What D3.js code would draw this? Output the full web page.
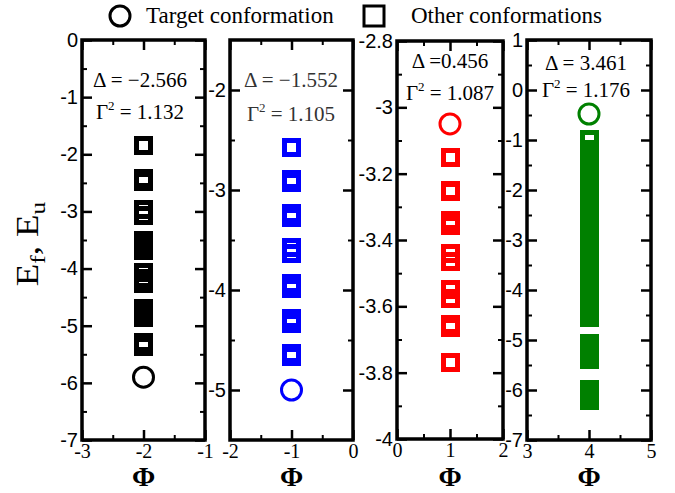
<!DOCTYPE html>
<html lang="en">
<head>
  <meta charset="UTF-8">
  <title>Energy spectra</title>
  <style>
    body { margin: 0; background: #fff; }
    svg { display: block; }
  </style>
</head>
<body>
  <script src="https://d3js.org/d3.v7.min.js"></script>
  <script>
    const width = 675;
    const height = 493;

    // ---- data ----
    const phi = [-2, -1, 1, 4];
    const xDomains = [[-3, -1], [-2, 0], [0, 2], [3, 5]];
    const yDomains = [[-7, 0], [-5.5, -1.5], [-4, -2.8], [-7, 1]];
    const xTicks = [[-3, -2, -1], [-2, -1, 0], [0, 1, 2], [3, 4, 5]];
    const xMinor = [[-2.5, -1.5], [-1.5, -0.5], [0.5, 1.5], [3.5, 4.5]];
    const yTicks = [
      [0, -1, -2, -3, -4, -5, -6, -7],
      [-2, -3, -4, -5],
      [-2.8, -3, -3.2, -3.4, -3.6, -3.8, -4],
      [1, 0, -1, -2, -3, -4, -5, -6, -7]
    ];
    const yMinor = [
      [-0.5, -1.5, -2.5, -3.5, -4.5, -5.5, -6.5],
      [-2.5, -3.5, -4.5],
      [-2.9, -3.1, -3.3, -3.5, -3.7, -3.9],
      [0.5, -0.5, -1.5, -2.5, -3.5, -4.5, -5.5, -6.5]
    ];
    const deltaText = ['\u0394 = \u22122.566', '\u0394 = \u22121.552', '\u0394 =0.456', '\u0394 = 3.461'];
    const gammaText = [' = 1.132', ' = 1.105', ' = 1.087', ' = 1.176'];

    // energy of the target conformation (circle)
    const targetE = [-5.9, -5.0, -3.05, -0.48];
    // energies of the other conformations (squares)
    const otherE1 = [-1.85, -2.42, -2.47, -2.97, -3.07, -3.5, -3.6, -3.69,
                     -4.07, -4.17, -4.26, -4.69, -4.77, -4.86, -5.3, -5.37];
    const otherE2 = [-2.57, -2.89, -2.92, -3.23, -3.27, -3.57, -3.63,
                     -3.93, -3.98, -4.28, -4.33, -4.63, -4.66];
    const otherE3 = [-3.15, -3.25, -3.253, -3.34, -3.355, -3.44, -3.465,
                     -3.55, -3.575, -3.655, -3.665, -3.77];
    const otherE4 = [-0.99, -1.18, -1.3, -1.38, -1.5, -1.58, -1.7, -1.8,
                     -1.88, -1.97, -2.05, -2.14, -2.22, -2.31, -2.4, -2.48,
                     -2.57, -2.66, -2.74, -2.83, -2.91, -3.0, -3.09, -3.17,
                     -3.26, -3.34, -3.43, -3.52, -3.6, -3.69, -3.77, -3.86,
                     -3.95, -4.03, -4.12, -4.2, -4.29, -4.38, -4.46, -4.55,
                     -5.07, -5.15, -5.23, -5.31, -5.39,
                     -5.99, -6.05, -6.14, -6.21];
    const otherE = [otherE1, otherE2, otherE3, otherE4];

    // ---- layout / style ----
    const colors = ['#000000', '#0000ff', '#ff0000', '#008000'];
    const textColors = ['#000', '#333', '#000', '#000'];
    const frames = [
      { x0: 82, x1: 205, y0: 40, y1: 440 },
      { x0: 230, x1: 353, y0: 40, y1: 440 },
      { x0: 397, x1: 503, y0: 41, y1: 439 },
      { x0: 527, x1: 651, y0: 40, y1: 440 }
    ];
    const notePos = [
      { x: 140, d: 87, g: 119 },
      { x: 291, d: 87, g: 121 },
      { x: 450, d: 68, g: 100 },
      { x: 586, d: 70, g: 97 }
    ];
    const serif = '"Liberation Serif", serif';
    const sans = '"Liberation Sans", sans-serif';
    const sq = 14;   // square side
    const sqStroke = 5;

    const svg = d3.select('body')
                  .append('svg')
                  .attr('width', width)
                  .attr('height', height);

    const styleAxis = (g, stroke) => {
      g.select('.domain').remove();
      g.selectAll('.tick line').attr('stroke', '#000').attr('stroke-width', stroke);
    };

    const drawPanel = (i) => {
      const f = frames[i];
      const x = d3.scaleLinear().domain(xDomains[i]).range([f.x0, f.x1]);
      const y = d3.scaleLinear().domain(yDomains[i]).range([f.y1, f.y0]);
      const g = svg.append('g');

      // major + minor ticks on all four sides, pointing inward
      g.append('g').attr('transform', `translate(${f.x0},0)`)
        .call(d3.axisLeft(y).tickValues(yTicks[i]).tickSize(-10).tickPadding(4).tickFormat(d => String(d)))
        .call(a => styleAxis(a, 2.5))
        .selectAll('text')
        .attr('font-family', sans).attr('font-size', 20).attr('fill', '#000');
      g.append('g').attr('transform', `translate(${f.x0},0)`)
        .call(d3.axisLeft(y).tickValues(yMinor[i]).tickSize(-5).tickFormat(''))
        .call(a => styleAxis(a, 2));
      g.append('g').attr('transform', `translate(${f.x1},0)`)
        .call(d3.axisRight(y).tickValues(yTicks[i]).tickSize(-10).tickFormat(''))
        .call(a => styleAxis(a, 2.5));
      g.append('g').attr('transform', `translate(${f.x1},0)`)
        .call(d3.axisRight(y).tickValues(yMinor[i]).tickSize(-5).tickFormat(''))
        .call(a => styleAxis(a, 2));

      g.append('g').attr('transform', `translate(0,${f.y1})`)
        .call(d3.axisBottom(x).tickValues(xTicks[i]).tickSize(-10).tickPadding(4).tickFormat(d => String(d)))
        .call(a => styleAxis(a, 2.5))
        .selectAll('text')
        .attr('font-family', serif).attr('font-size', 20).attr('fill', '#000');
      g.append('g').attr('transform', `translate(0,${f.y1})`)
        .call(d3.axisBottom(x).tickValues(xMinor[i]).tickSize(-5).tickFormat(''))
        .call(a => styleAxis(a, 2));
      g.append('g').attr('transform', `translate(0,${f.y0})`)
        .call(d3.axisTop(x).tickValues(xTicks[i]).tickSize(-10).tickFormat(''))
        .call(a => styleAxis(a, 2.5));
      g.append('g').attr('transform', `translate(0,${f.y0})`)
        .call(d3.axisTop(x).tickValues(xMinor[i]).tickSize(-5).tickFormat(''))
        .call(a => styleAxis(a, 2));

      // frame
      g.append('rect')
        .attr('x', f.x0).attr('y', f.y0)
        .attr('width', f.x1 - f.x0).attr('height', f.y1 - f.y0)
        .attr('fill', 'none').attr('stroke', '#000').attr('stroke-width', 3.5);

      // squares: other conformations
      g.append('g').selectAll('rect')
        .data(otherE[i])
        .enter()
        .append('rect')
        .attr('x', x(phi[i]) - sq / 2)
        .attr('y', d => y(d) - sq / 2)
        .attr('width', sq)
        .attr('height', sq)
        .attr('fill', 'none')
        .attr('stroke', colors[i])
        .attr('stroke-width', sqStroke)
        .attr('shape-rendering', 'crispEdges');

      // circle: target conformation
      g.append('circle')
        .attr('cx', x(phi[i]))
        .attr('cy', y(targetE[i]))
        .attr('r', 10)
        .attr('fill', 'none')
        .attr('stroke', colors[i])
        .attr('stroke-width', 3);

      // annotations
      const p = notePos[i];
      g.append('text')
        .attr('x', p.x).attr('y', p.d)
        .attr('text-anchor', 'middle')
        .attr('font-family', serif).attr('font-size', 21)
        .attr('fill', textColors[i])
        .text(deltaText[i]);
      const gt = g.append('text')
        .attr('x', p.x).attr('y', p.g)
        .attr('text-anchor', 'middle')
        .attr('font-family', serif).attr('font-size', 21)
        .attr('fill', textColors[i]);
      gt.append('tspan').text('\u0393');
      gt.append('tspan').attr('font-size', 13).attr('dy', -9).text('2');
      gt.append('tspan').attr('dy', 9).text(gammaText[i]);

      // x label
      g.append('text')
        .attr('x', x(phi[i])).attr('y', 486)
        .attr('text-anchor', 'middle')
        .attr('font-family', serif).attr('font-weight', 'bold').attr('font-size', 28)
        .text('\u03a6');
    };

    [0, 1, 2, 3].forEach(drawPanel);

    // y label
    const yl = svg.append('text')
      .attr('transform', 'translate(38,244) rotate(-90) scale(1.15,1)')
      .attr('text-anchor', 'middle')
      .attr('fill', '#000')
      .attr('font-family', serif).attr('font-size', 32);
    yl.append('tspan').text('E');
    yl.append('tspan').attr('font-size', 22).attr('dy', 7).text('f');
    yl.append('tspan').attr('dy', -7).text(', E');
    yl.append('tspan').attr('font-size', 22).attr('dy', 7).text('u');

    // legend
    const lg = svg.append('g');
    lg.append('circle')
      .attr('cx', 120).attr('cy', 16).attr('r', 10)
      .attr('fill', 'none').attr('stroke', '#000').attr('stroke-width', 3);
    lg.append('text')
      .attr('x', 146).attr('y', 23)
      .attr('font-family', serif).attr('font-size', 23)
      .text('Target conformation');
    lg.append('rect')
      .attr('x', 364).attr('y', 6).attr('width', 20).attr('height', 20)
      .attr('fill', 'none').attr('stroke', '#000').attr('stroke-width', 3);
    lg.append('text')
      .attr('x', 411).attr('y', 23)
      .attr('font-family', serif).attr('font-size', 23)
      .text('Other conformations');
  </script>
</body>
</html>
